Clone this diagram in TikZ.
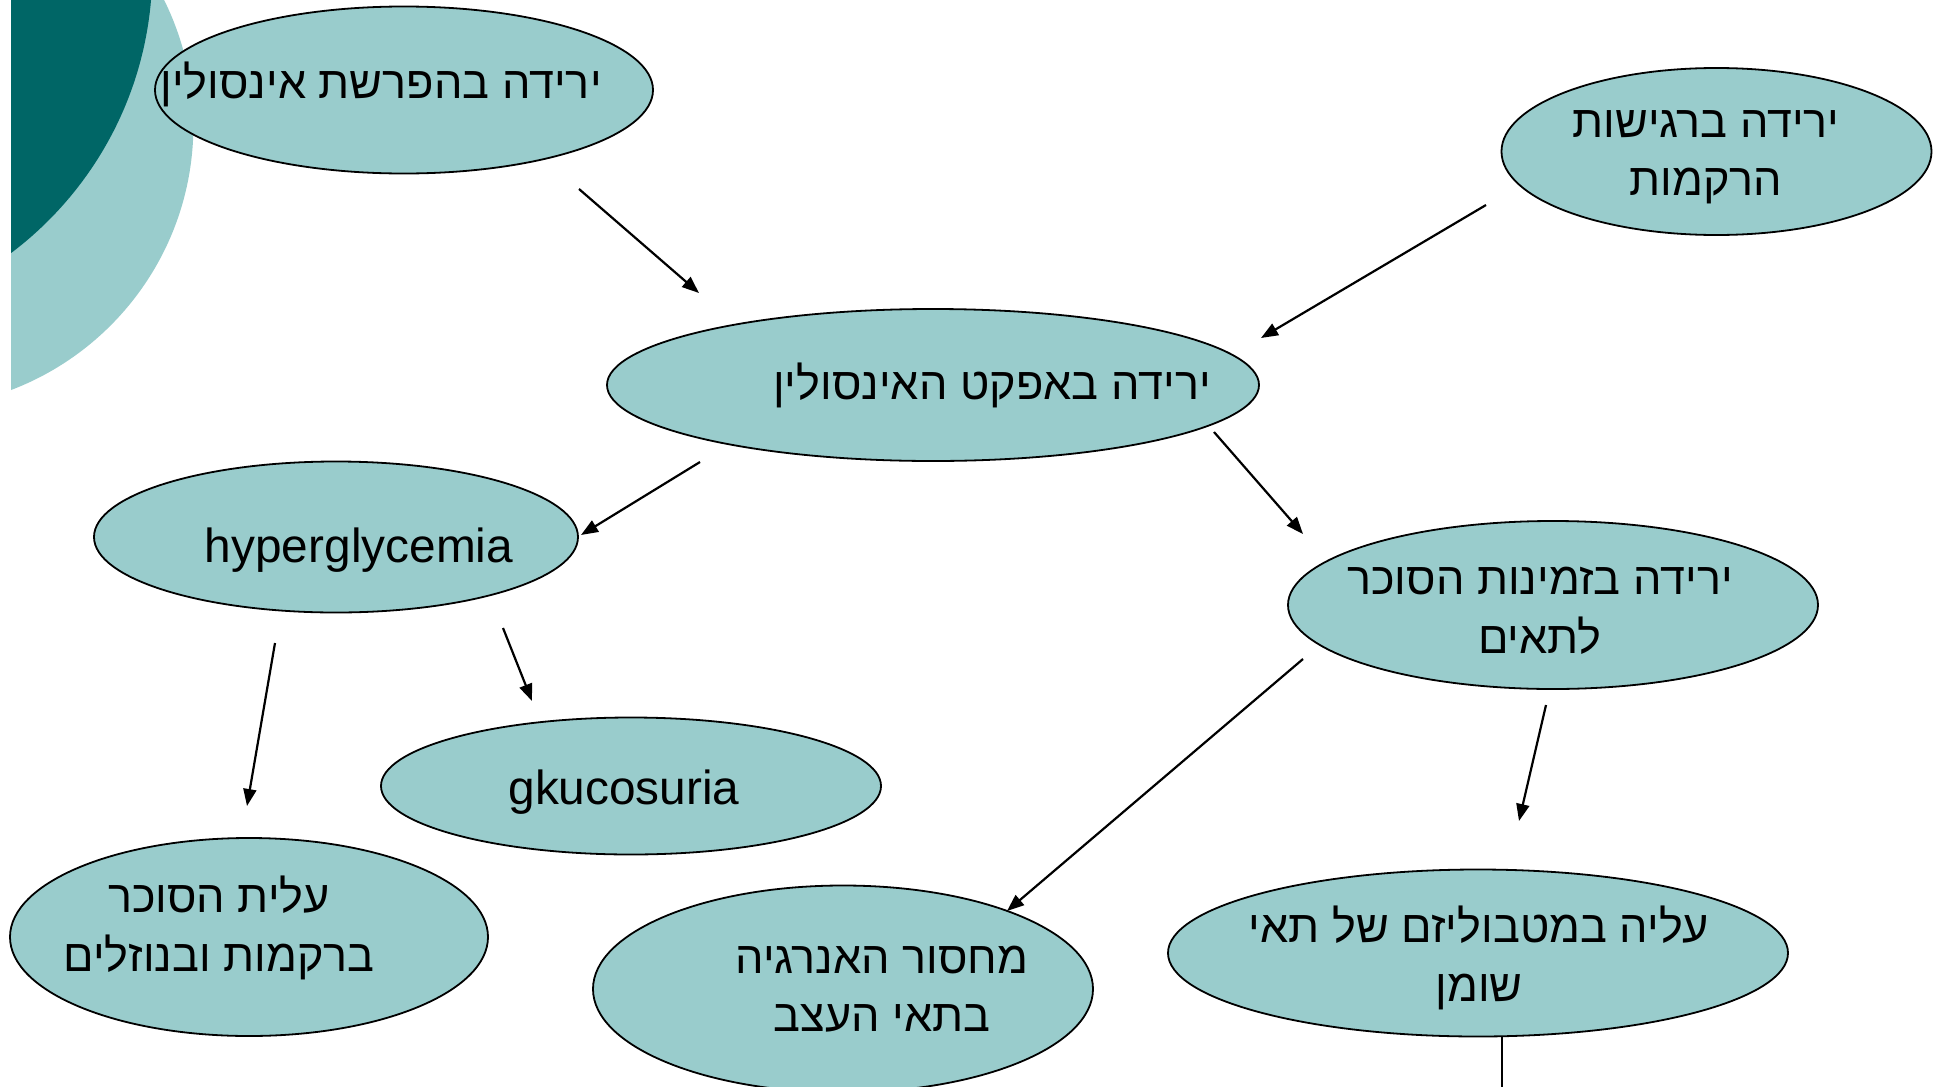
\documentclass[tikz,border=0pt]{standalone}
\usepackage{fontspec}
\setmainfont{Liberation Sans}
\newfontfamily\hebfont[Script=Hebrew]{Liberation Sans}
\TeXXeTstate=1
\usetikzlibrary{shapes.geometric,arrows.meta}
\definecolor{lightteal}{HTML}{99CCCC}
\definecolor{darkteal}{HTML}{006666}
\begin{document}
\begin{tikzpicture}[x=1pt,y=-1pt,
  oval/.style={ellipse, draw=black, line width=1.8pt, fill=lightteal, inner sep=0pt},
  etxt/.style={font=\fontsize{47.8}{58}\selectfont, align=center, inner sep=0pt},
  htxt/.style={font=\hebfont\fontsize{45}{58.5}\selectfont, align=center, inner sep=0pt},
  arr/.style={-{Triangle[length=17pt,width=13pt]}, line width=2.2pt}]
\useasboundingbox (0,0) rectangle (1939,1087);
\begin{scope}
\clip (11,0) rectangle (400,600);
\fill[lightteal] (-89.5,125.5) circle[radius=282.9pt];
\fill[darkteal] (-202.3,-30.2) circle[radius=354.6pt];
\end{scope}
% ellipses
\node[oval, minimum width=498pt, minimum height=167pt] (e1) at (404,90) {};
\node[oval, minimum width=430pt, minimum height=167pt] (e2) at (1716.5,151.5) {};
\node[oval, minimum width=652pt, minimum height=152pt] (e3) at (933,385) {};
\node[oval, minimum width=484pt, minimum height=151pt] (e4) at (336,537) {};
\node[oval, minimum width=530pt, minimum height=168pt] (e5) at (1553,605) {};
\node[oval, minimum width=500pt, minimum height=137pt] (e6) at (631,786) {};
\node[oval, minimum width=478pt, minimum height=198pt] (e7) at (249,937) {};
\node[oval, minimum width=500pt, minimum height=207pt] (e8) at (843,989) {};
\node[oval, minimum width=620pt, minimum height=167pt] (e9) at (1478,953) {};
% texts
\node[htxt] (t1) at (381,84) {\beginR ירידה בהפרשת אינסולין\endR};
\node[htxt] (t2) at (1706,157) {\beginR ירידה ברגישות\endR\\\beginR הרקמות\endR};
\node[htxt] (t3) at (992,385) {\beginR ירידה באפקט האינסולין\endR};
\node[etxt] (t4) at (359,550) {hyperglycemia};
\node[htxt] (t5) at (1540,611) {\beginR ירידה בזמינות הסוכר\endR\\\beginR לתאים\endR};
\node[etxt] (t6) at (624,792) {gkucosuria};
\node[htxt] (t7) at (219,928) {\beginR עלית הסוכר\endR\\\beginR ברקמות ובנוזלים\endR};
\node[htxt] (t8) at (882,989) {\beginR מחסור האנרגיה\endR\\\beginR בתאי העצב\endR};
\node[htxt] (t9) at (1479,958) {\beginR עליה במטבוליזם של תאי\endR\\\beginR שומן\endR};
% connector ends
\coordinate (a1s) at (579,189);  \coordinate (a1e) at (699,293);
\coordinate (a2s) at (1486,205); \coordinate (a2e) at (1261,338);
\coordinate (a3s) at (700,462);  \coordinate (a3e) at (581,535);
\coordinate (a4s) at (1214,432); \coordinate (a4e) at (1303,534);
\coordinate (a5s) at (275,643);  \coordinate (a5e) at (247,806);
\coordinate (a6s) at (503,628);  \coordinate (a6e) at (532,701);
\coordinate (a7s) at (1303,659); \coordinate (a7e) at (1007,911);
\coordinate (a8s) at (1546,705); \coordinate (a8e) at (1519,821);
\coordinate (a9s) at (1502,1036); \coordinate (a9e) at (1502,1090);
\draw[arr] (a1s) -- (a1e);
\draw[arr] (a2s) -- (a2e);
\draw[arr] (a3s) -- (a3e);
\draw[arr] (a4s) -- (a4e);
\draw[arr] (a5s) -- (a5e);
\draw[arr] (a6s) -- (a6e);
\draw[arr] (a7s) -- (a7e);
\draw[arr] (a8s) -- (a8e);
\draw[line width=2.2pt] (a9s) -- (a9e);
\end{tikzpicture}
\end{document}
